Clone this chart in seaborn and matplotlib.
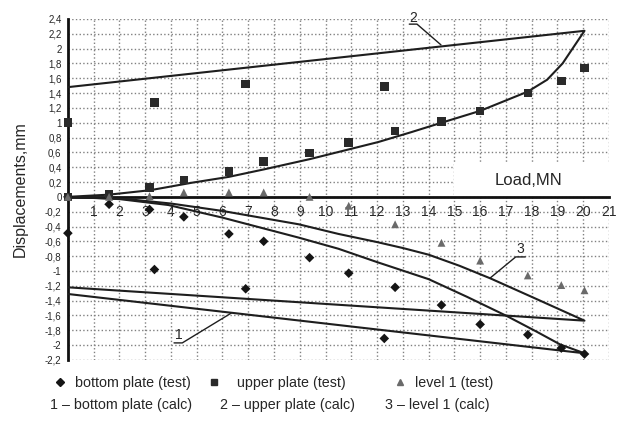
import matplotlib
matplotlib.use("Agg")
import matplotlib.pyplot as plt
import seaborn as sns
from matplotlib.lines import Line2D
from matplotlib.patches import Rectangle

# ---------------- data ----------------
load_test = [0, 0, 1.6, 3.17, 3.36, 4.5, 6.25, 6.9, 7.6, 9.38, 10.9, 12.28, 12.7, 14.5, 16.0, 17.85, 19.15, 20.05]
bottom_test = [0, -0.49, -0.10, -0.17, -0.98, -0.27, -0.50, -1.24, -0.60, -0.82, -1.03, -1.91, -1.22, -1.46, -1.72, -1.86, -2.04, -2.12]
upper_test = [0, 1.00, 0.04, 0.13, 1.27, 0.23, 0.34, 1.52, 0.48, 0.59, 0.73, 1.49, 0.89, 1.02, 1.16, 1.40, 1.56, 1.74]
load_level = [0, 1.6, 3.17, 4.5, 6.25, 7.6, 9.38, 10.9, 12.7, 14.5, 16.0, 17.85, 19.15, 20.05]
level_test = [0, 0, 0.01, 0.06, 0.06, 0.06, 0.0, -0.12, -0.37, -0.62, -0.86, -1.06, -1.19, -1.26]

load_calc1 = [0, 2.0, 3.9, 6.0, 8.96, 10.5, 12.0, 14.0, 15.5, 17.05, 18.2, 19.1, 20.05, 0]
bottom_calc = [0, -0.03, -0.11, -0.28, -0.55, -0.70, -0.88, -1.11, -1.35, -1.61, -1.82, -1.99, -2.11, -1.31]
load_calc2 = [0, 1.6, 3.2, 4.8, 6.25, 7.6, 9.4, 10.9, 12.05, 13.3, 14.5, 16.0, 17.85, 18.6, 19.2, 20.05, 0]
upper_calc = [0, 0.03, 0.09, 0.19, 0.27, 0.37, 0.51, 0.64, 0.74, 0.87, 1.0, 1.16, 1.42, 1.58, 1.8, 2.24, 1.48]
load_calc3 = [0, 2.3, 4.0, 6.0, 8.96, 10.5, 12.0, 13.0, 14.0, 15.2, 16.4, 18.2, 20.05, 0]
level_calc = [0, -0.03, -0.09, -0.19, -0.37, -0.50, -0.61, -0.69, -0.78, -0.93, -1.10, -1.38, -1.67, -1.22]

x_ticks = list(range(1, 22))
x_tick_labels = [str(v) for v in x_ticks]
y_ticks = [2.4, 2.2, 2.0, 1.8, 1.6, 1.4, 1.2, 1.0, 0.8, 0.6, 0.4, 0.2, 0.0,
           -0.2, -0.4, -0.6, -0.8, -1.0, -1.2, -1.4, -1.6, -1.8, -2.0, -2.2]
y_tick_labels = ["2,4", "2,2", "2", "1,8", "1,6", "1,4", "1,2", "1", "0,8", "0,6", "0,4", "0,2", "0",
                 "-0,2", "-0,4", "-0,6", "-0,8", "-1", "-1,2", "-1,4", "-1,6", "-1,8", "-2", "-2,2"]

test_labels = ["bottom plate (test)", "upper plate (test)", "level 1 (test)"]
calc_labels = ["1 \u2013 bottom plate (calc)", "2 \u2013 upper plate (calc)", "3 \u2013 level 1 (calc)"]
callout_labels = ["1", "2", "3"]

# ---------------- style ----------------
sns.set_style("white")
plt.rcParams["font.family"] = ["Liberation Sans", "DejaVu Sans"]

fig = plt.figure(figsize=(6.17, 4.21), dpi=100)
ax = fig.add_axes([0.110, 0.145, 0.877, 0.810])

LINE_C = "#1e1e1e"
GRID_C = "#808080"

# calc curves
for xs, ys in [(load_calc1, bottom_calc), (load_calc2, upper_calc), (load_calc3, level_calc)]:
    sns.lineplot(x=xs, y=ys, sort=False, estimator=None, ax=ax, color=LINE_C, lw=1.5, zorder=3)

# test points
sns.scatterplot(x=load_test, y=bottom_test, marker="D", s=24, color="#151515", edgecolor="none",
                ax=ax, zorder=4, clip_on=False)
sns.scatterplot(x=load_test, y=upper_test, marker="s", s=38, color="#2a2a2a", edgecolor="none",
                ax=ax, zorder=4, clip_on=False)
sns.scatterplot(x=load_level, y=level_test, marker="^", s=32, color="#6a6a6a", edgecolor="none",
                ax=ax, zorder=4, clip_on=False)

# axes
ax.set_xlim(0, 21)
ax.set_ylim(-2.2, 2.4)
ax.set_xticks(x_ticks)
ax.set_xticklabels(x_tick_labels, fontsize=7)
ax.set_yticks(y_ticks)
ax.set_yticklabels(y_tick_labels, fontsize=7)
ax.spines["top"].set_visible(False)
ax.spines["right"].set_visible(False)
ax.spines["bottom"].set_position(("data", 0))
ax.spines["bottom"].set_linewidth(2)
ax.spines["left"].set_linewidth(2)
ax.spines["bottom"].set_color("#111111")
ax.spines["left"].set_color("#111111")
ax.tick_params(axis="x", direction="out", length=3, width=1, pad=3, color="#111111")
ax.tick_params(axis="y", direction="out", length=3, width=1, pad=1.5, color="#111111")
ax.grid(True, color=GRID_C, linestyle=":", linewidth=1.0)
ax.set_axisbelow(True)

# white area behind axis title
ax.add_patch(Rectangle((15.0, 0.03), 6.0, 0.42, facecolor="white", edgecolor="none", zorder=1))
ax.text(16.55, 0.22, "Load,MN", fontsize=12, ha="left", va="center", zorder=2)
ax.set_xlabel("")
ax.set_ylabel("Displacements,mm", fontsize=11.5, labelpad=12)

# callouts with underline leaders
ax.text(4.29, -1.86, callout_labels[0], fontsize=10, ha="center", va="center")
ax.plot([4.12, 4.44, 6.33], [-1.97, -1.97, -1.57], color=LINE_C, lw=1)
ax.text(13.42, 2.41, callout_labels[1], fontsize=10, ha="center", va="center", clip_on=False)
ax.plot([13.25, 13.55, 14.48], [2.33, 2.33, 2.05], color=LINE_C, lw=1)
ax.text(17.55, -0.71, callout_labels[2], fontsize=10, ha="center", va="center")
ax.plot([17.75, 17.38, 16.37], [-0.81, -0.81, -1.10], color=LINE_C, lw=1)

# legend
W, H = 617.0, 421.0
proxies = [
    Line2D([], [], marker="D", ls="none", color="#151515", markersize=4),
    Line2D([], [], marker="s", ls="none", color="#2a2a2a", markersize=5),
    Line2D([], [], marker="^", ls="none", color="#6a6a6a", markersize=5),
]
row1_left = [53, 207, 393]
row1_pad = [0.54, 1.1, 0.54]
for h, lab, xl, pd_ in zip(proxies, test_labels, row1_left, row1_pad):
    fig.legend([h], [lab], loc="center left", bbox_to_anchor=(xl / W, 1 - 383 / H),
               frameon=False, borderpad=0, borderaxespad=0, handlelength=1.0,
               handletextpad=pd_, fontsize=10.3)
row2_left = [50, 220, 385]
for lab, xl in zip(calc_labels, row2_left):
    fig.text(xl / W, 1 - 405 / H, lab, fontsize=10.3, ha="left", va="center")

fig.savefig("out.png", dpi=100)
